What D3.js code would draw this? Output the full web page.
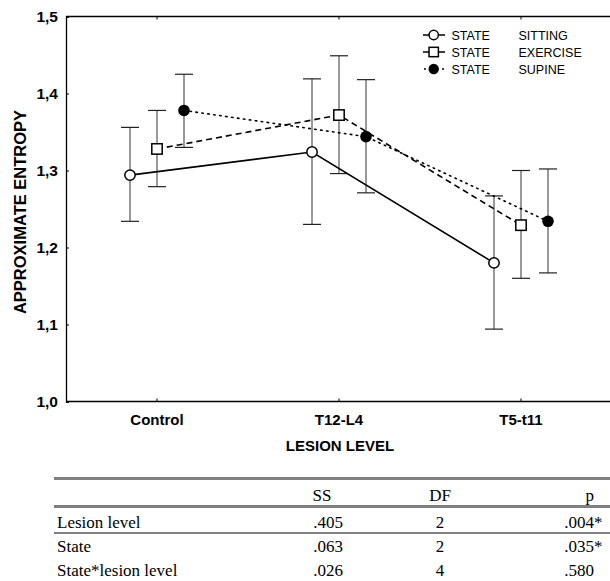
<!DOCTYPE html>
<html>
<head>
<meta charset="utf-8">
<script src="https://cdn.jsdelivr.net/npm/d3@7"></script>
<style>
  html, body { margin: 0; padding: 0; background: #fff; }
  svg { display: block; }
</style>
</head>
<body>
<svg id="chart" width="610" height="581"></svg>
<script>
// ---------- data ----------
const categories = ["Control", "T12-L4", "T5-t11"];
const seriesNames = ["SITTING", "EXERCISE", "SUPINE"];
const sittingMean  = [1.294, 1.324, 1.180];
const sittingLow   = [1.234, 1.230, 1.094];
const sittingHigh  = [1.356, 1.419, 1.267];
const exerciseMean = [1.328, 1.372, 1.229];
const exerciseLow  = [1.279, 1.296, 1.160];
const exerciseHigh = [1.378, 1.449, 1.300];
const supineMean   = [1.378, 1.344, 1.234];
const supineLow    = [1.330, 1.271, 1.167];
const supineHigh   = [1.425, 1.418, 1.302];
const yTicks = [1.0, 1.1, 1.2, 1.3, 1.4, 1.5];
const tableHeader = ["", "SS", "DF", "p"];
const tableRowNames = ["Lesion level", "State", "State*lesion level"];
const tableSS = [".405", ".063", ".026"];
const tableDF = ["2", "2", "4"];
const tableP  = [".004", ".035", ".580"];
const tableSig = ["*", "*", ""];

// ---------- chart ----------
const svg = d3.select("#chart");
const pLeft = 66, pRight = 612, pTop = 16.5, pBottom = 401.5;
const sans = "Liberation Sans, Arial, sans-serif";

const x = d3.scaleBand().domain(categories).range([pLeft, pRight]);
const xOff = d3.scalePoint().domain(seriesNames).range([-27, 27]);
const y = d3.scaleLinear().domain([1.0, 1.5]).range([pBottom, pTop]);

const series = [
  { name: "SITTING",  mean: sittingMean,  low: sittingLow,  high: sittingHigh,  dash: null,  marker: "circleOpen" },
  { name: "EXERCISE", mean: exerciseMean, low: exerciseLow, high: exerciseHigh, dash: "6,4", marker: "square" },
  { name: "SUPINE",   mean: supineMean,   low: supineLow,   high: supineHigh,   dash: "1.5,4.5", marker: "circleFilled" }
];
const px = (s, i) => x(categories[i]) + x.bandwidth() / 2 + xOff(s.name);

// frame: top line
svg.append("line").attr("x1", pLeft).attr("x2", 610).attr("y1", pTop).attr("y2", pTop)
  .attr("stroke", "#000").attr("stroke-width", 1.3);

// y axis
const yAxis = d3.axisLeft(y).tickValues(yTicks).tickSize(-3).tickPadding(8)
  .tickFormat(d => d3.format(".1f")(d).replace(".", ","));
const gy = svg.append("g").attr("transform", `translate(${pLeft},0)`).call(yAxis);
gy.select(".domain").attr("stroke", "#000").attr("stroke-width", 1.3);
gy.selectAll(".tick line").attr("stroke", "#000");
gy.selectAll("text").attr("font-family", sans)
  .attr("font-size", 15.5).attr("font-weight", "bold").attr("fill", "#000");

// x axis
const xAxis = d3.axisBottom(x).tickSize(-3).tickPadding(13);
const gx = svg.append("g").attr("transform", `translate(0,${pBottom})`).call(xAxis);
gx.select(".domain").attr("stroke", "#000").attr("stroke-width", 1.3).attr("d", `M${pLeft},0H610`);
gx.selectAll(".tick line").attr("stroke", "#000");
gx.selectAll("text").attr("font-family", sans)
  .attr("font-size", 15).attr("font-weight", "bold").attr("fill", "#000");

// top ticks
svg.append("g").selectAll("line").data(categories).join("line")
  .attr("x1", d => x(d) + x.bandwidth() / 2).attr("x2", d => x(d) + x.bandwidth() / 2)
  .attr("y1", pTop).attr("y2", pTop + 3).attr("stroke", "#000");

// axis titles
svg.append("text").attr("x", 340).attr("y", 451).attr("text-anchor", "middle")
  .attr("font-family", sans).attr("font-size", 15)
  .attr("font-weight", "bold").text("LESION LEVEL");
svg.append("text").attr("transform", "translate(25.5,212) rotate(-90)").attr("text-anchor", "middle")
  .attr("font-family", sans).attr("font-size", 16.5)
  .attr("font-weight", "bold").text("APPROXIMATE ENTROPY");

// error bars
series.forEach(s => {
  const g = svg.append("g");
  categories.forEach((c, i) => {
    const cx = px(s, i);
    g.append("line").attr("x1", cx).attr("x2", cx).attr("y1", y(s.low[i])).attr("y2", y(s.high[i]))
      .attr("stroke", "#555").attr("stroke-width", 1.2);
    [s.low[i], s.high[i]].forEach(v => {
      g.append("line").attr("x1", cx - 9).attr("x2", cx + 9).attr("y1", y(v)).attr("y2", y(v))
        .attr("stroke", "#222").attr("stroke-width", 1.2);
    });
  });
});

// lines
const line = d3.line().x(d => d[0]).y(d => d[1]);
series.forEach(s => {
  const pts = categories.map((c, i) => [px(s, i), y(s.mean[i])]);
  const p = svg.append("path").attr("d", line(pts)).attr("fill", "none")
    .attr("stroke", "#000").attr("stroke-width", 1.6);
  if (s.dash) p.attr("stroke-dasharray", s.dash).attr("stroke-linecap", s.name === "SUPINE" ? "round" : "butt");
});

// markers
function drawMarker(g, type, cx, cy, sc) {
  sc = sc || 1;
  if (type === "circleOpen") {
    g.append("circle").attr("cx", cx).attr("cy", cy).attr("r", 5.2 * sc)
      .attr("fill", "#fff").attr("stroke", "#000").attr("stroke-width", 1.5);
  } else if (type === "square") {
    g.append("rect").attr("x", cx - 5.2 * sc).attr("y", cy - 5.2 * sc)
      .attr("width", 10.4 * sc).attr("height", 10.4 * sc)
      .attr("fill", "#fff").attr("stroke", "#000").attr("stroke-width", 1.5);
  } else {
    g.append("circle").attr("cx", cx).attr("cy", cy).attr("r", 5.8 * sc).attr("fill", "#000");
  }
}
series.forEach(s => {
  const g = svg.append("g");
  categories.forEach((c, i) => drawMarker(g, s.marker, px(s, i), y(s.mean[i])));
});

// legend
const legend = svg.append("g");
series.forEach((s, k) => {
  const ly = 35 + k * 17;
  const lg = legend.append("g");
  const l = lg.append("line").attr("x1", 423).attr("x2", 445).attr("y1", ly).attr("y2", ly)
    .attr("stroke", "#000").attr("stroke-width", 1.5);
  if (s.name === "SUPINE") l.attr("stroke-dasharray", "2,4").attr("x1", 424);
  drawMarker(lg, s.marker, 433.7, ly, 0.9);
  lg.append("text").attr("x", 451.5).attr("y", ly + 4.5).attr("font-family", sans)
    .attr("font-size", 12.5).text("STATE");
  lg.append("text").attr("x", 518.5).attr("y", ly + 4.5).attr("font-family", sans)
    .attr("font-size", 12.5).text(s.name);
});

// table
const tbl = svg.append("g").attr("font-family", "Liberation Serif, Times New Roman, serif")
  .attr("font-size", 17).attr("fill", "#000");
const tLeft = 54, tRight = 610;
const hline = (yy, w) => tbl.append("line").attr("x1", tLeft).attr("x2", tRight)
  .attr("y1", yy).attr("y2", yy).attr("stroke", "#808080").attr("stroke-width", w);
hline(478.5, 3);
hline(506.5, 3);
hline(533, 2);
const colX = [57, 328, 440, 594];
const colAnchor = ["start", "middle", "middle", "end"];
tableHeader.forEach((h, j) => {
  tbl.append("text").attr("x", colX[j] - (j === 1 ? 6 : 0)).attr("y", 500.5)
    .attr("text-anchor", colAnchor[j]).text(h);
});
const rowY = [528, 552, 576];
tableRowNames.forEach((r, i) => {
  const vals = [r, tableSS[i], tableDF[i], tableP[i]];
  vals.forEach((v, j) => {
    tbl.append("text").attr("x", colX[j]).attr("y", rowY[i])
      .attr("text-anchor", colAnchor[j]).text(v);
  });
  if (tableSig[i]) {
    tbl.append("text").attr("x", colX[3]).attr("y", rowY[i]).attr("text-anchor", "start").text(tableSig[i]);
  }
});
</script>
</body>
</html>
